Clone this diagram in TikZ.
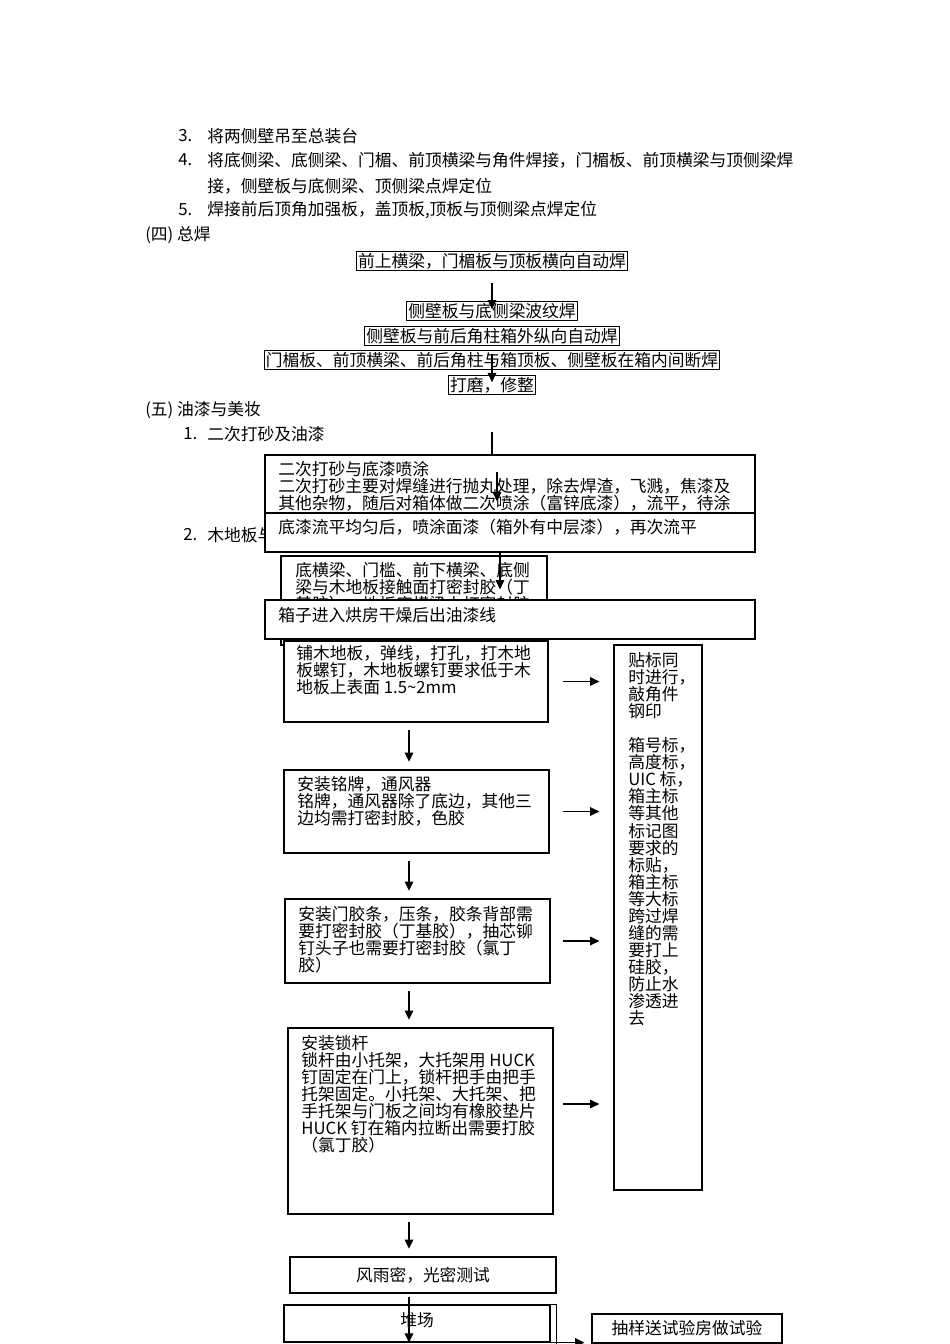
\documentclass[tikz,border=0pt]{standalone}
\usepackage{fontspec}
\setmainfont{Noto Sans CJK SC}
\usetikzlibrary{arrows.meta, fit}

\tikzset{
  box/.style={draw, fill=white, line width=0.75pt, inner sep=0},
  tight/.style={draw, fill=white, line width=0.6pt, inner sep=0.9pt},
  txt/.style={inner sep=0, anchor=north west, align=left},
  line/.style={inner sep=0, anchor=west},
  arr/.style={-{Triangle[length=5.8pt,width=5.4pt]}, line width=0.75pt},
  down/.style={arr, shorten <=4.8pt, shorten >=4.8pt},
  side/.style={arr, shorten >=8.8pt},
}

\begin{document}
\begin{tikzpicture}[x=0.627pt, y=-0.627pt, font=\fontsize{10.5}{10.7}\selectfont]
\useasboundingbox[fill=white] (0,0) rectangle (950,1344);

% 总装
\node[line] (n3) at (178,136) {3.};
\node[line] (t3) at (207,136) {将两侧壁吊至总装台};
\node[line] (n4) at (178,160) {4.};
\node[line] (t4) at (207,160) {将底侧梁、底侧梁、门楣、前顶横梁与角件焊接，门楣板、前顶横梁与顶侧梁焊};
\node[line] (t4b) at (207,186) {接，侧壁板与底侧梁、顶侧梁点焊定位};
\node[line] (n5) at (178,210) {5.};
\node[line] (t5) at (207,210) {焊接前后顶角加强板，盖顶板,顶板与顶侧梁点焊定位};
\node[line] (s4) at (145,235) {(四) 总焊};

% 总焊
\node[tight] (w1) at (492,261) {前上横梁，门楣板与顶板横向自动焊};
\node[tight] (w2) at (492,311) {侧壁板与底侧梁波纹焊};
\node[tight] (w3) at (492,336) {侧壁板与前后角柱箱外纵向自动焊};
\node[tight] (w4) at (492,360) {门楣板、前顶横梁、前后角柱与箱顶板、侧壁板在箱内间断焊};
\node[tight] (w5) at (492,385) {打磨，修整};
\draw[arr] ([shift={(0,12)}]w1.south) -- ([shift={(0,8)}]w2.north);
\draw[arr] ([shift={(0,4)}]w4.north) -- ([shift={(0,7)}]w5.north);

% 油漆与美妆
\node[line] (s5) at (145,410) {(五) 油漆与美妆};
\node[line] (n1) at (183,434) {1.};
\node[line] (t1) at (207,434) {二次打砂及油漆};
\coordinate (p0) at (492,432);
\draw[arr] (p0) -- ++(0,32);
\node[line] (n2) at (183,535) {2.};
\node[line] (t2) at (207,535) {木地板与};

\node[box, fit={(265,455) (755,513)}] (pa) {};
\node[txt] (pat) at (278,461) {二次打砂与底漆喷涂\\二次打砂主要对焊缝进行抛丸处理，除去焊渣，飞溅，焦漆及\\其他杂物，随后对箱体做二次喷涂（富锌底漆），流平，待涂};
\draw[arr] ([shift={(-13,18)}]pa.north) -- ([shift={(-13,47)}]pa.north);
\node[box, fit={(265,513) (755,552)}] (pb) {};
\node[line] (pbt) at (278,527) {底漆流平均匀后，喷涂面漆（箱外有中层漆），再次流平};

\node[box, fit={(281,556) (547,645)}] (pc) {};
\node[txt] (pct) at (295,562) {底横梁、门槛、前下横梁、底侧\\梁与木地板接触面打密封胶（丁\\基胶），地板底横梁上打密封胶};
\draw[arr] ([shift={(86,-3)}]pc.north) -- ([shift={(86,34)}]pc.north);
\node[box, fit={(265,600) (755,639)}] (pd) {};
\node[line] (pdt) at (278,615) {箱子进入烘房干燥后出油漆线};

\node[box, fit={(284,641) (548,722)}] (pe) {};
\node[txt] (pet) at (296,645) {铺木地板，弹线，打孔，打木地\\板螺钉，木地板螺钉要求低于木\\地板上表面 1.5\textasciitilde 2mm};

\node[box, fit={(614,645) (702,1190)}] (pr) {};
\node[txt] (prt) at (628,652) {贴标同\\时进行，\\敲角件\\钢印\\[10.7pt]箱号标，\\高度标，\\UIC 标，\\箱主标\\等其他\\标记图\\要求的\\标贴，\\箱主标\\等大标\\跨过焊\\缝的需\\要打上\\硅胶，\\防止水\\渗透进\\去};

\node[box, fit={(284,770) (549,853)}] (pf) {};
\node[txt] (pft) at (297,776) {安装铭牌，通风器\\铭牌，通风器除了底边，其他三\\边均需打密封胶，色胶};
\node[box, fit={(285,899) (550,983)}] (pg) {};
\node[txt] (pgt) at (298,906) {安装门胶条，压条，胶条背部需\\要打密封胶（丁基胶），抽芯铆\\钉头子也需要打密封胶（氯丁\\胶）};
\node[box, fit={(288,1028) (553,1214)}] (ph) {};
\node[txt] (pht) at (301,1035) {安装锁杆\\锁杆由小托架，大托架用 HUCK\\钉固定在门上，锁杆把手由把手\\托架固定。小托架、大托架、把\\手托架与门板之间均有橡胶垫片\\HUCK 钉在箱内拉断出需要打胶\\（氯丁胶）};

\node[box, fit={(290,1257) (556,1293)}] (pi) {};
\node[inner sep=0] (pit) at (pi.center) {风雨密，光密测试};

\coordinate (mx) at (409,0);
\coordinate (rx) at (563,0);
\foreach \a/\b in {pe/pf, pf/pg, pg/ph, ph/pi}
  \draw[down] (\a.south -| mx) -- (\b.north -| mx);
\foreach \a in {pe,pf,pg}
  \draw[side] (\a.east -| rx) -- (\a.east -| pr.west);
\draw[side] ([shift={(0,-17)}]ph.east -| rx) -- ([shift={(0,-17)}]ph.east -| pr.west);

% 堆场
\node[box, fit={(284,1305) (550,1342)}] (pj) {};
\draw[line width=0.75pt] (pj.north east) -- ++(6,0) -- ++(0,45);
\node[inner sep=0] (pjt) at (417,1320) {堆场};
\draw[arr] ([shift={(0,3)}]pi.south -| mx) -- (pj.south -| mx);
\node[box, fit={(592,1314) (782,1343)}] (pk) {};
\node[inner sep=0] (pkt) at (pk.center) {抽样送试验房做试验};
\draw[arr, line width=1pt] ([shift={(13,0)}]pj.south) -- ([shift={(-7,0)}]pj.south -| pk.west);
\end{tikzpicture}
\end{document}
